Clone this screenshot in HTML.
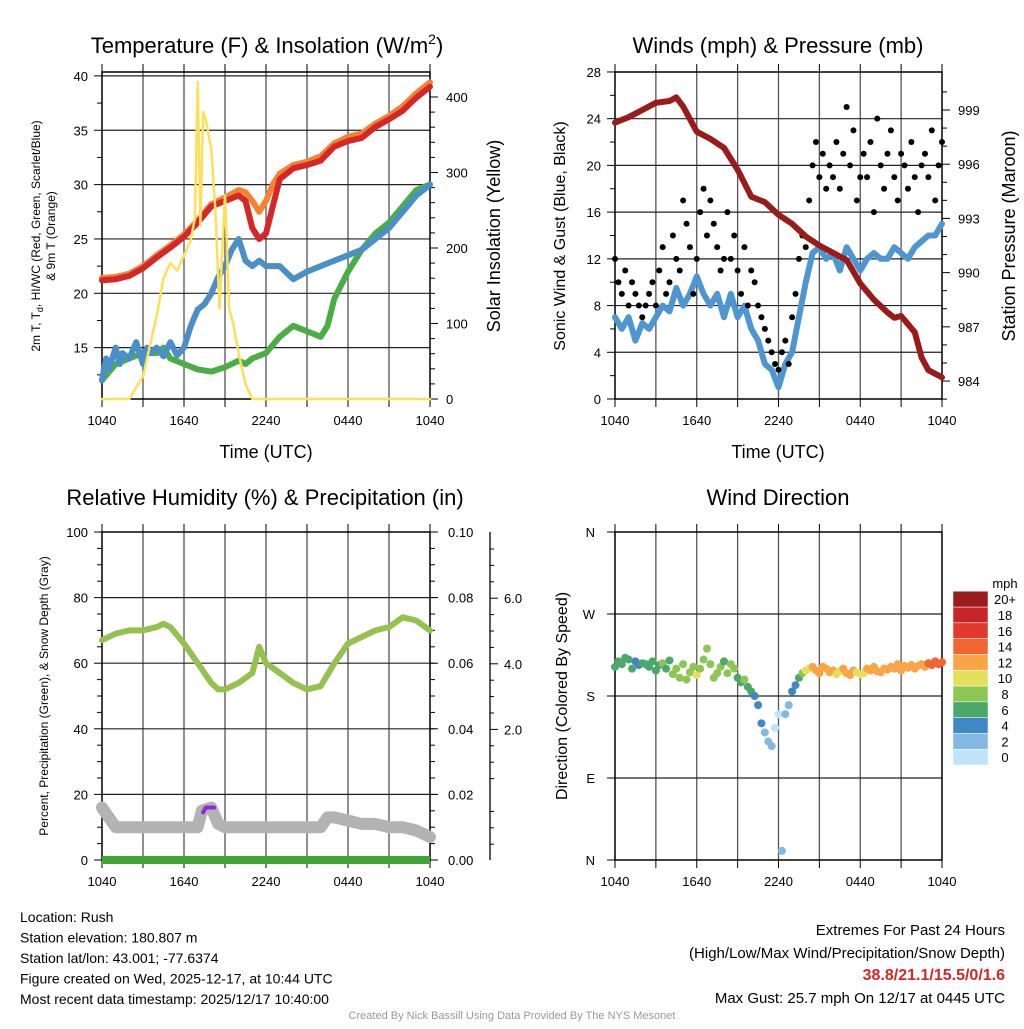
<!DOCTYPE html>
<html><head><meta charset="utf-8"><style>
body{margin:0;background:#fff;font-family:"Liberation Sans",sans-serif}
svg text{font-family:"Liberation Sans",sans-serif}
</style></head><body>
<svg id="c" width="1024" height="1024" xmlns="http://www.w3.org/2000/svg">
<g id="layer"></g>
</svg>
<script>
// ---- data (hours since 1040 UTC) ----
const xTickLabels=["1040","1640","2240","0440","1040"];
const tempT=[0,1,2,3,4,5,6,7,8,9,10,10.5,11,11.5,12,12.5,13,14,15,16,17,18,19,20,21,22,23,24];
const tempRed=[21.2,21.3,21.6,22.3,23.3,24.2,25.2,26.5,28,28.5,29,28.5,26,25,25.5,28,30.5,31.5,31.8,32.2,33.5,34,34.3,35.3,36,36.8,38,39];
const tempOrange=[21.4,21.5,21.8,22.5,23.5,24.4,25.4,26.7,28.2,28.8,29.5,29.3,28.5,27.5,28.5,30,31,31.8,32.1,32.6,33.8,34.4,34.7,35.6,36.3,37.2,38.4,39.4];
const dewT=[0,1,2,3,4,4.5,5,6,7,8,9,10,10.5,11,12,13,14,15,16,16.5,17,18,19,20,21,22,23,24];
const dewGreen=[12,13.5,14,14.5,14.5,15,14,13.5,13,12.8,13.2,13.8,13.5,14,14.5,16,17,16.5,16,17,19.5,22,24,25.5,26.5,28,29.5,30];
const wcT=[0,0.3,0.5,1,1.3,1.5,2,2.5,3,3.3,3.5,4,4.5,5,5.5,6,6.5,7,7.5,8,8.5,9,9.5,10,10.5,11,11.5,12,13,14,15,16,17,18,19,20,21,22,23,24];
const wcBlue=[12,14,13,15,13.5,14.5,14,15.5,13.5,15,14.5,15,14.2,15.5,14.3,15,17,18.5,19,20,21.5,22.5,24,25,23,22.5,23,22.5,22.5,21.3,22,22.5,23,23.5,24,25,26,27.5,29,30];
const solT=[0,2,3,3.5,4,4.5,5,5.5,6,6.5,6.8,7,7.2,7.4,7.6,8,8.3,8.6,9,9.3,9.6,10,10.5,11,24];
const solar=[0,0,30,70,110,160,180,170,190,210,240,420,230,380,370,330,250,120,270,120,100,60,20,0,0];
const windT=[0,0.5,1,1.5,2,2.5,3,3.5,4,4.5,5,5.5,6,6.5,7,7.5,8,8.5,9,9.5,10,10.5,11,11.5,12,12.5,13,13.5,14,14.5,15,15.5,16,16.5,17,17.5,18,18.5,19,19.5,20,20.5,21,21.5,22,22.5,23,23.5,24];
const windSpd=[7,6,7,5,6.5,6,7,8,7.5,9.5,8,9,10.5,9,8,9,7,9,7,8,6,5,3,2.5,1,3,4,7,10,12.5,13,12,12.5,11,13,12,11,12,12.5,12,12,13,12.5,12,13,13.5,14,14,15];
const gusts=[12,10,9,11,8,10,9,8,7,8,9,10,8,11,13,9,10,14,12,11,17,15,13,9,12,16,18,14,17,15,13,11,12,16,12,14,11,9,13,8,11,10,8,7,6,5,4,3,2.5,4,5,3,7,9,12,14,13,17,20,22,19,21,18,20,19,22,18,21,25,20,23,17,19,21,19,22,16,24,20,18,21,23,19,17,21,20,18,22,19,16,20,21,19,23,17,20,22];
const presT=[0,1,2,3,4,4.5,5,6,7,8,9,10,11,12,13,14,15,16,17,18,19,20,20.5,21,22,22.5,23,24];
const pressure=[998.3,998.6,999,999.4,999.5,999.7,999.2,997.8,997.4,996.9,995.7,994.2,993.9,993.2,992.7,992,991.5,991.1,990.7,989.4,988.5,987.8,987.5,987.6,986.7,985.3,984.6,984.2];
const rhT=[0,1,2,3,4,4.5,5,6,7,8,8.5,9,10,11,11.5,12,13,14,15,16,17,18,19,20,21,22,23,24];
const rh=[67,69,70,70,71,72,71,66,60,54,52,52,54,57,65,60,57,54,52,53,60,66,68,70,71,74,73,70];
const snowT=[0,0.5,1,2,3,4,5,6,7,7.3,8,8.5,9,10,12,14,16,16.5,17,18,19,20,21,22,23,24];
const snowPct=[16,13,10,10,10,10,10,10,10,15,16,11,10,10,10,10,10,13,13,12,11,11,10,10,9,7];
const dirs=[212,218,215,222,220,210,218,214,216,215,212,218,208,214,216,210,219,204,210,200,215,198,206,212,203,210,220,232,215,200,205,212,218,205,215,210,200,195,198,190,185,180,170,150,140,130,125,145,160,10,160,170,185,192,200,205,208,210,212,208,205,212,210,206,208,204,207,210,205,203,208,206,204,205,210,208,212,207,206,210,209,212,210,215,208,213,211,214,210,213,215,212,216,214,218,215,217];
const speedColors=["#bfe3f7","#82b8e2","#3f88c5","#4aa86a","#8cc653","#e6df5c","#f9a546","#f26430","#e03a2e","#c8252a","#9b1c1c"];
const speedLabels=["0","2","4","6","8","10","12","14","16","18","20+"];

const NS="http://www.w3.org/2000/svg";
const L=document.getElementById('layer');
function mk(tag,attrs,parent){const e=document.createElementNS(NS,tag);for(const k in attrs)e.setAttribute(k,attrs[k]);(parent||L).appendChild(e);return e;}
function txt(x,y,s,size,anchor,extra){const e=mk('text',Object.assign({x:x,y:y,'font-size':size,'text-anchor':anchor||'middle',fill:'#000'},extra||{}));e.textContent=s;return e;}
function interp(ts,vs,t){if(t<=ts[0])return vs[0];for(let i=1;i<ts.length;i++){if(t<=ts[i]){const f=(t-ts[i-1])/(ts[i]-ts[i-1]);return vs[i-1]+f*(vs[i]-vs[i-1]);}}return vs[vs.length-1];}

const P={
 temp:{x0:102,x1:430,y0:72,y1:399},
 wind:{x0:615,x1:942,y0:72,y1:399},
 rh:{x0:102,x1:430,y0:532,y1:860},
 dir:{x0:615,x1:942,y0:532,y1:860}};
function xs(p,t){return p.x0+t*(p.x1-p.x0)/24;}

function frame(p,name,hlines){
 const g=mk('g',{});
 
 
 for(let h=3;h<24;h+=3){mk('line',{x1:xs(p,h),x2:xs(p,h),y1:p.y0,y2:p.y1,stroke:'#555','stroke-width':1.3},g);}
 hlines.forEach(y=>mk('line',{x1:p.x0,x2:p.x1,y1:y,y2:y,stroke:'#222','stroke-width':1.2},g));
 mk('rect',{x:p.x0,y:p.y0,width:p.x1-p.x0,height:p.y1-p.y0,fill:'none',stroke:'#000','stroke-width':1.5},g);
 for(let h=0;h<=24;h+=3){const x=xs(p,h);mk('line',{x1:x,x2:x,y1:p.y1,y2:p.y1+8,stroke:'#000'},g);mk('line',{x1:x,x2:x,y1:p.y0,y2:p.y0-8,stroke:'#000'},g);}
 xTickLabels.forEach((s,i)=>{const t=txt(xs(p,i*6),p.y1+26,s,13);});
 return g;}
function path(pts,attrs,name){const d=pts.map((q,i)=>(i?'L':'M')+q[0].toFixed(1)+','+q[1].toFixed(1)).join('');const e=mk('path',Object.assign({d:d,fill:'none','stroke-linejoin':'round','stroke-linecap':'round'},attrs));return e;}

// ---------- Panel 1 ----------
(function(){const p=P.temp;
 const yT=v=>402-(v-10)*10.87, yS=v=>399-v*0.755;
 frame(p,'temperature',[15,20,25,30,35,40].map(yT));
 [15,20,25,30,35,40].forEach(v=>{const t=txt(p.x0-14,yT(v)+5,String(v),13,'end');mk('line',{x1:p.x0-8,x2:p.x0,y1:yT(v),y2:yT(v),stroke:'#000'});});
 for(let v=12.5;v<40;v+=5)mk('line',{x1:p.x0-5,x2:p.x0,y1:yT(v),y2:yT(v),stroke:'#000'});
 [0,100,200,300,400].forEach(v=>{const t=txt(p.x1+16,yS(v)+5,String(v),13,'start');mk('line',{x1:p.x1,x2:p.x1+8,y1:yS(v),y2:yS(v),stroke:'#000'});});
 for(let v=20;v<420;v+=20)if(v%100)mk('line',{x1:p.x1,x2:p.x1+5,y1:yS(v),y2:yS(v),stroke:'#000'});
 path(dewT.map((t,i)=>[xs(p,t),yT(dewGreen[i])]),{stroke:'#4aae45','stroke-width':6},'dewpoint-line');
 path(wcT.map((t,i)=>[xs(p,t),yT(wcBlue[i])]),{stroke:'#4a8fc8','stroke-width':6},'windchill-line');
 path(tempT.map((t,i)=>[xs(p,t),yT(tempOrange[i])]),{stroke:'#f58231','stroke-width':6},'9m-temp-line');
 path(tempT.map((t,i)=>[xs(p,t),yT(tempRed[i])]),{stroke:'#d62728','stroke-width':6},'2m-temp-line');
 path(solT.map((t,i)=>[xs(p,t),yS(solar[i])]),{stroke:'#fde05a','stroke-width':2.5},'solar-line');
 let t=txt(267,53,'',22);
 t.innerHTML='Temperature (F) &amp; Insolation (W/m<tspan dy="-9" font-size="14">2</tspan><tspan dy="9">)</tspan>';
 t=txt(266,458,'Time (UTC)',18);
 t=txt(0,0,'',12,'middle',{transform:'translate(40,236) rotate(-90)'});
 t.innerHTML='2m T, T<tspan dy="3" font-size="9">d</tspan><tspan dy="-3">, HI/WC (Red, Green, Scarlet/Blue)</tspan>';
 t=txt(0,0,'& 9m T (Orange)',12,'middle',{transform:'translate(55,236) rotate(-90)'});
 t=txt(0,0,'Solar Insolation (Yellow)',18,'middle',{transform:'translate(500,236) rotate(-90)'});
})();

// ---------- Panel 2 ----------
(function(){const p=P.wind;
 const yW=v=>399-v*11.68, yP=v=>110+(999-v)*18.07;
 frame(p,'wind',[4,8,12,16,20,24].map(yW));
 [0,4,8,12,16,20,24,28].forEach(v=>{const t=txt(p.x0-14,yW(v)+5,String(v),13,'end');mk('line',{x1:p.x0-8,x2:p.x0,y1:yW(v),y2:yW(v),stroke:'#000'});});
 for(let v=2;v<28;v+=4)mk('line',{x1:p.x0-5,x2:p.x0,y1:yW(v),y2:yW(v),stroke:'#000'});
 [984,987,990,993,996,999].forEach(v=>{const t=txt(p.x1+16,yP(v)+5,String(v),13,'start');mk('line',{x1:p.x1,x2:p.x1+8,y1:yP(v),y2:yP(v),stroke:'#000'});});
 for(let v=983;v<=1000;v++)if((v-984)%3)mk('line',{x1:p.x1,x2:p.x1+5,y1:yP(v),y2:yP(v),stroke:'#000'});
 path(windT.map((t,i)=>[xs(p,t),yW(windSpd[i])]),{stroke:'#4e96d2','stroke-width':6},'wind-speed-line');
 gusts.forEach((g,i)=>{const c=mk('circle',{cx:xs(p,i*0.25),cy:yW(g),r:3,fill:'#000'});
  
  });
 path(presT.map((t,i)=>[xs(p,t),yP(pressure[i])]),{stroke:'#9b1b1b','stroke-width':6},'pressure-line');
 let t=txt(778,53,'Winds (mph) & Pressure (mb)',22);
 t=txt(778,458,'Time (UTC)',18);
 t=txt(0,0,'Sonic Wind & Gust (Blue, Black)',16,'middle',{transform:'translate(565,236) rotate(-90)'});
 t=txt(0,0,'Station Pressure (Maroon)',18,'middle',{transform:'translate(1015,236) rotate(-90)'});
})();

// ---------- Panel 3 ----------
(function(){const p=P.rh;
 const yR=v=>860-v*3.28, yPr=v=>860-v*3280, yS=v=>795-v*32.8;
 frame(p,'humidity',[20,40,60,80].map(yR));
 [0,20,40,60,80,100].forEach(v=>{const t=txt(p.x0-14,yR(v)+5,String(v),13,'end');mk('line',{x1:p.x0-8,x2:p.x0,y1:yR(v),y2:yR(v),stroke:'#000'});});
 for(let v=5;v<100;v+=5)if(v%20)mk('line',{x1:p.x0-5,x2:p.x0,y1:yR(v),y2:yR(v),stroke:'#000'});
 [0,0.02,0.04,0.06,0.08,0.10].forEach(v=>{const t=txt(p.x1+18,yPr(v)+5,v.toFixed(2),13,'start');mk('line',{x1:p.x1,x2:p.x1+8,y1:yPr(v),y2:yPr(v),stroke:'#000'});});
 for(let v=0.005;v<0.1;v+=0.005)mk('line',{x1:p.x1,x2:p.x1+5,y1:yPr(v),y2:yPr(v),stroke:'#000'});
 mk('line',{x1:490,x2:490,y1:532,y2:860,stroke:'#000','stroke-width':1.3});
 [2,4,6].forEach(v=>{const t=txt(504,yS(v)+5,v.toFixed(1),13,'start');mk('line',{x1:490,x2:498,y1:yS(v),y2:yS(v),stroke:'#000'});});
 for(let v=-1.5;v<=8;v+=0.5)if(v%2)mk('line',{x1:490,x2:494,y1:yS(v),y2:yS(v),stroke:'#000'});
 path(snowT.map((t,i)=>[xs(p,t),yR(snowPct[i])]),{stroke:'#b3b3b3','stroke-width':12},'snow-depth-line');
 path([[xs(p,7.4),yR(14.5)],[xs(p,7.6),yR(16)],[xs(p,8.2),yR(16)]],{stroke:'#8a2be2','stroke-width':4},'precip-accum-line');
 path([[p.x0,860],[p.x1,860]],{stroke:'#3fa535','stroke-width':8,'stroke-linecap':'butt'},'precip-line');
 path(rhT.map((t,i)=>[xs(p,t),yR(rh[i])]),{stroke:'#93c24f','stroke-width':6},'rh-line');
 let t=txt(265,505,'Relative Humidity (%) & Precipitation (in)',22);
 t=txt(0,0,'Percent, Precipitation (Green), & Snow Depth (Gray)',12,'middle',{transform:'translate(48,696) rotate(-90)'});
})();

// ---------- Panel 4 ----------
(function(){const p=P.dir;
 const yD=v=>860-v*328/360;
 frame(p,'wind-direction',[90,180,270].map(yD));
 ['N','E','S','W','N'].forEach((s,i)=>{const t=txt(p.x0-20,yD(i*90)+5,s,13,'end');mk('line',{x1:p.x0-8,x2:p.x0,y1:yD(i*90),y2:yD(i*90),stroke:'#000'});});
 dirs.forEach((d,i)=>{const tt=i*0.25;const sp=interp(windT,windSpd,tt);const b=Math.max(0,Math.min(10,Math.floor(sp/2)));
  const c=mk('circle',{cx:xs(p,tt),cy:yD(d),r:4,fill:speedColors[b]});
  
  });
 speedColors.forEach((col,i)=>{const y=765-(i+1)*15.8;
  const r=mk('rect',{x:953,y:y,width:35,height:15.8,fill:col,stroke:'#fff','stroke-width':0.5});
  
  
  const t=txt(1005,y+13,speedLabels[i],13);});
 let t=txt(1005,588,'mph',13);
 t=txt(778,505,'Wind Direction',22);
 t=txt(0,0,'Direction (Colored By Speed)',16,'middle',{transform:'translate(567,696) rotate(-90)'});
})();

// ---------- footer ----------
["Location: Rush","Station elevation: 180.807 m","Station lat/lon: 43.001; -77.6374","Figure created on Wed, 2025-12-17, at 10:44 UTC","Most recent data timestamp: 2025/12/17 10:40:00"].forEach((s,i)=>{const t=txt(20,922+i*20.5,s,14,'start');});
[["Extremes For Past 24 Hours",935,'#000','normal'],["(High/Low/Max Wind/Precipitation/Snow Depth)",958,'#000','normal'],["38.8/21.1/15.5/0/1.6",980,'#d62728','bold'],["Max Gust: 25.7 mph On 12/17 at 0445 UTC",1003,'#000','normal']].forEach(a=>{const t=txt(1005,a[1],a[0],a[2]==='#000'?15:16,'end',{fill:a[2],'font-weight':a[3]});});
{const t=txt(512,1019,'Created By Nick Bassill Using Data Provided By The NYS Mesonet',11,'middle',{fill:'#999'});}
</script>
</body></html>
